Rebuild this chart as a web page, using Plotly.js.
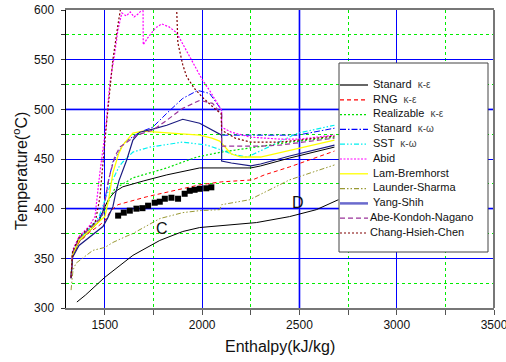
<!DOCTYPE html>
<html><head><meta charset="utf-8">
<script src="https://cdn.plot.ly/plotly-3.0.1.min.js"></script>
<style>html,body{margin:0;padding:0;background:#fff}#chart{width:506px;height:362px}</style>
</head><body><div id="chart"></div>
<script>
// ---- data ----
const seriesNames = ['Stanard', 'RNG', 'Realizable', 'Stanard', 'SST', 'Abid', 'Lam-Bremhorst', 'Launder-Sharma', 'Yang-Shih', 'Abe-Kondoh-Nagano', 'Chang-Hsieh-Chen'];
const seriesModel = ['κ-ε', 'κ-ε', 'κ-ε', 'κ-ω', 'κ-ω', '', '', '', '', '', ''];

const hStdKE = [1326,1333,1367,1420,1470,1495,1520,1551,1592,1700,1818,1987,2100,2250,2300,2450,2680];
const tStdKE = [330,352,367,377,387,400,410,417,422,428,434,441,441,441,443,451,462];

const hRNG = [1326,1333,1367,1420,1470,1500,1530,1567,1715,1987,2100,2259,2320,2449,2680];
const tRNG = [330,351,366,376,383,388,398,404,412,424,427,429,434,442,458];

const hReal = [1326,1333,1367,1420,1470,1500,1530,1551,1644,1818,1972,2100,2250,2450,2680];
const tReal = [331,353,369,379,388,398,413,420,431,441,452,457,461,467,472];

const hStdKW = [1326,1333,1367,1420,1470,1490,1515,1541,1602,1679,1746,1818,1900,1977,2038,2090,2100,2100,2300,2490,2680];
const tStdKW = [331,355,370,380,390,398,425,447,467,477,482,496,511,519,516,502,499,474,474,474,481];

const hSST = [1326,1333,1367,1420,1470,1495,1530,1572,1592,1644,1731,1900,2023,2100,2150,2233,2350,2490,2680];
const tSST = [331,354,369,380,392,405,425,442,447,457,462,467,464,459,455,452,463,476,484];

const hAbid = [1326,1334,1367,1418,1449,1474,1505,1525,1551,1567,1587,1610,1630,1650,1670,1690,1696,1697,1720,1760,1792,1830,1869,1910,1951,2000,2038,2090,2100,2100,2150,2248,2400,2500,2680];
const tAbid = [331,358,372,382,392,436,482,526,557,580,597,594,598,593,596,600,605,565,572,582,586,583,577,562,547,530,519,502,499,482,477,472,470,470,474];

const hLam = [1326,1333,1367,1420,1470,1500,1520,1541,1570,1592,1644,1695,1818,1987,2050,2090,2150,2200,2300,2450,2680];
const tLam = [331,353,368,378,387,392,410,436,455,464,476,478,476,474,471,468,455,452,452,459,469];

const hLS = [1326,1336,1351,1438,1500,1541,1608,1644,1782,1900,1987,2090,2100,2244,2449,2680];
const tLS = [318,338,345,358,361,366,372,375,390,396,398,399,404,409,429,444];

const hYS = [1326,1334,1367,1438,1490,1515,1541,1556,1572,1612,1644,1679,1746,1818,1900,1987,2054,2100,2100,2150,2250,2300,2450,2680];
const tYS = [330,351,363,374,382,391,402,416,428,449,469,477,480,484,490,486,479,474,448,446,443,445,453,464];

const hAKN = [1326,1334,1367,1420,1470,1490,1520,1550,1577,1664,1746,1818,1900,1987,2054,2090,2100,2100,2300,2400,2680];
const tAKN = [331,356,370,380,389,395,430,452,462,474,479,489,501,509,506,497,495,463,463,464,471];

const hCHC = [1326,1334,1367,1418,1450,1474,1510,1541,1567,1582,1600,1860,1869,1875,1900,1920,1960,2002,2074,2097,2100,2170,2250,2400,2680];
const tCHC = [331,357,371,381,386,411,489,550,585,600,625,625,600,567,545,533,521,512,499,496,479,471,467,467,473];

const hCurveC = [1356,1400,1500,1644,1782,1900,1987,2105,2279,2449,2587,2700];
const tCurveC = [306,313,331,353,368,377,381,383,386,392,399,409];

const hExp = [1568,1597,1628,1662,1693,1722,1756,1782,1808,1842,1876,1910,1936,1961,1987,2021,2047];
const tExp = [393,396,398,400,400.5,403,406,407,410,411,410,415,418,419,420,420.5,421.5];

const xTickVals = [1500,2000,2500,3000,3500];
const yTickVals = [300,350,400,450,500,550,600];

// ---- styles ----
const FONT = 'Liberation Sans, Arial, sans-serif';
const styles = [
  {color:'#000000', dash:'solid', width:1},
  {color:'#ff0000', dash:'4px,3px', width:1},
  {color:'#00e000', dash:'2px,2px', width:1.2},
  {color:'#0000ff', dash:'6px,2px,1.5px,2px', width:1},
  {color:'#00f0f0', dash:'5px,2px,1.5px,2px,1.5px,2px', width:1.2},
  {color:'#ff00ff', dash:'2px,1.5px', width:1.2},
  {color:'#ffff00', dash:'solid', width:1.3},
  {color:'#999933', dash:'5px,2px,1.5px,2px,1.5px,2px', width:1},
  {color:'#1a1a80', dash:'solid', width:1.2},
  {color:'#993399', dash:'5px,3px', width:1.2},
  {color:'#800000', dash:'2px,2px', width:1.2}
];
const xs = [hStdKE,hRNG,hReal,hStdKW,hSST,hAbid,hLam,hLS,hYS,hAKN,hCHC];
const ys = [tStdKE,tRNG,tReal,tStdKW,tSST,tAbid,tLam,tLS,tYS,tAKN,tCHC];

const X0 = 1300, X1 = 3500, Y0 = 300, Y1 = 600;
const L = 66, R = 494, T = 10, B = 308;
const px = v => (v - L) / (R - L);
const py = v => (B - v) / (B - T);
const dataX = v => X0 + (v - L) * (X1 - X0) / (R - L);
const dataY = v => Y0 + (B - v) * (Y1 - Y0) / (B - T);

const traces = [];
for (let i = 0; i < seriesNames.length; i++) {
  traces.push({
    type:'scatter', mode:'lines', x:xs[i], y:ys[i],
    name: seriesNames[i] + (seriesModel[i] ? ' ' + seriesModel[i] : ''),
    line:{color:styles[i].color, dash:styles[i].dash, width:styles[i].width},
    showlegend:false, hoverinfo:'skip'
  });
}
traces.push({type:'scatter', mode:'lines', x:hCurveC, y:tCurveC, line:{color:'#000', width:1}, showlegend:false, hoverinfo:'skip'});
traces.push({type:'scatter', mode:'markers', x:hExp, y:tExp, marker:{symbol:'square', size:6, color:'#000'}, showlegend:false, hoverinfo:'skip'});

// ---- manual legend: white box (trace layer, above the grid), sample lines, texts ----
const bx0 = dataX(339), bx1 = dataX(488), by0 = dataY(252), by1 = dataY(63);
traces.push({type:'scatter', mode:'lines', x:[bx0,bx1,bx1,bx0,bx0], y:[by0,by0,by1,by1,by0], fill:'toself', fillcolor:'#ffffff',
  line:{color:'#444', width:1}, showlegend:false, hoverinfo:'skip'});

const shapes = [
  {type:'line', xref:'paper', yref:'y', x0:0, x1:1, y0:400, y1:400, line:{color:'#7878ff', width:2.2}, layer:'between'},
  {type:'line', xref:'paper', yref:'y', x0:0, x1:1, y0:500, y1:500, line:{color:'#7878ff', width:2.2}, layer:'between'},
  {type:'line', xref:'x', yref:'paper', x0:2500, x1:2500, y0:0, y1:1, line:{color:'#7878ff', width:2.2}, layer:'between'},
  {type:'line', xref:'paper', yref:'paper', x0:1, x1:1, y0:0, y1:1, line:{color:'#777', width:2}, layer:'above'}
];
const legX = [], legY = [], legText = [];
for (let i = 0; i < seriesNames.length; i++) {
  const yy = 85 + i * 14.8;
  const st = styles[i];
  const isYS = i === 8;
  shapes.push({type:'line', xref:'paper', yref:'paper', x0:px(340), x1:px(368), y0:py(yy), y1:py(yy),
    line:{color: isYS ? '#6a6acd' : st.color, width: isYS ? 2.5 : Math.max(st.width, 1.2), dash: st.dash}, layer:'above'});
  let txt = seriesNames[i];
  if (seriesModel[i]) txt += '  <span style="font-size:10px;color:#444">' + seriesModel[i] + '</span>';
  legX.push(dataX(i >= 9 ? 370 : 373));
  legY.push(dataY(yy));
  legText.push(txt);
}
traces.push({type:'scatter', mode:'text', x:legX, y:legY, text:legText, textposition:'middle right',
  textfont:{family:FONT, size:11, color:'#111'}, cliponaxis:false, showlegend:false, hoverinfo:'skip'});

const annotations = [];
annotations.push({xref:'x', yref:'y', x:1792, y:380, text:'C', showarrow:false, font:{family:FONT, size:16, color:'#111'}});
annotations.push({xref:'x', yref:'y', x:2495, y:406, text:'D', showarrow:false, font:{family:FONT, size:16, color:'#111'}});
annotations.push({xref:'paper', yref:'paper', x:0.5, y:py(346), text:'Enthalpy(kJ/kg)', showarrow:false, xanchor:'center', yanchor:'middle', font:{family:FONT, size:16, color:'#111'}});
annotations.push({xref:'paper', yref:'paper', x:px(20), y:py(171), text:'Temperature(<sup>o</sup>C)', textangle:-90, showarrow:false, xanchor:'center', yanchor:'middle', font:{family:FONT, size:16, color:'#111'}});

const layout = {
  width:506, height:362,
  margin:{l:L, r:506-R, t:T, b:362-B, pad:0},
  paper_bgcolor:'#fff', plot_bgcolor:'#fff',
  showlegend:false,
  font:{family:FONT, size:12, color:'#111'},
  xaxis:{
    range:[X0,X1], tickvals:xTickVals, ticktext:xTickVals.map(String),
    showgrid:true, gridcolor:'#0000ff', gridwidth:1,
    ticks:'outside', ticklen:5, tickcolor:'#555', tickwidth:1,
    showline:true, linecolor:'#777', linewidth:2, mirror:true,
    zeroline:false, ticklabeloverflow:'allow',
    tickfont:{family:FONT, size:12, color:'#111'},
    minor:{dtick:250, tick0:0, showgrid:true, gridcolor:'#00ee00', griddash:'dot', gridwidth:1, ticks:'outside', ticklen:5, tickcolor:'#555'}
  },
  yaxis:{
    range:[Y0,Y1], tickvals:yTickVals, ticktext:yTickVals.map(String),
    showgrid:true, gridcolor:'#0000ff', gridwidth:1,
    ticks:'outside', ticklen:4, tickcolor:'#333', tickwidth:1,
    showline:true, linecolor:'#000', linewidth:1.5, mirror:false,
    zeroline:false, ticklabelstandoff:4,
    tickfont:{family:FONT, size:12, color:'#111'},
    minor:{dtick:25, tick0:0, showgrid:true, gridcolor:'#00ee00', griddash:'dot', gridwidth:1, ticks:'outside', ticklen:4, tickcolor:'#333'}
  },
  shapes: shapes,
  annotations: annotations
};
Plotly.newPlot('chart', traces, layout, {displayModeBar:false, staticPlot:true});
</script>
</body></html>
